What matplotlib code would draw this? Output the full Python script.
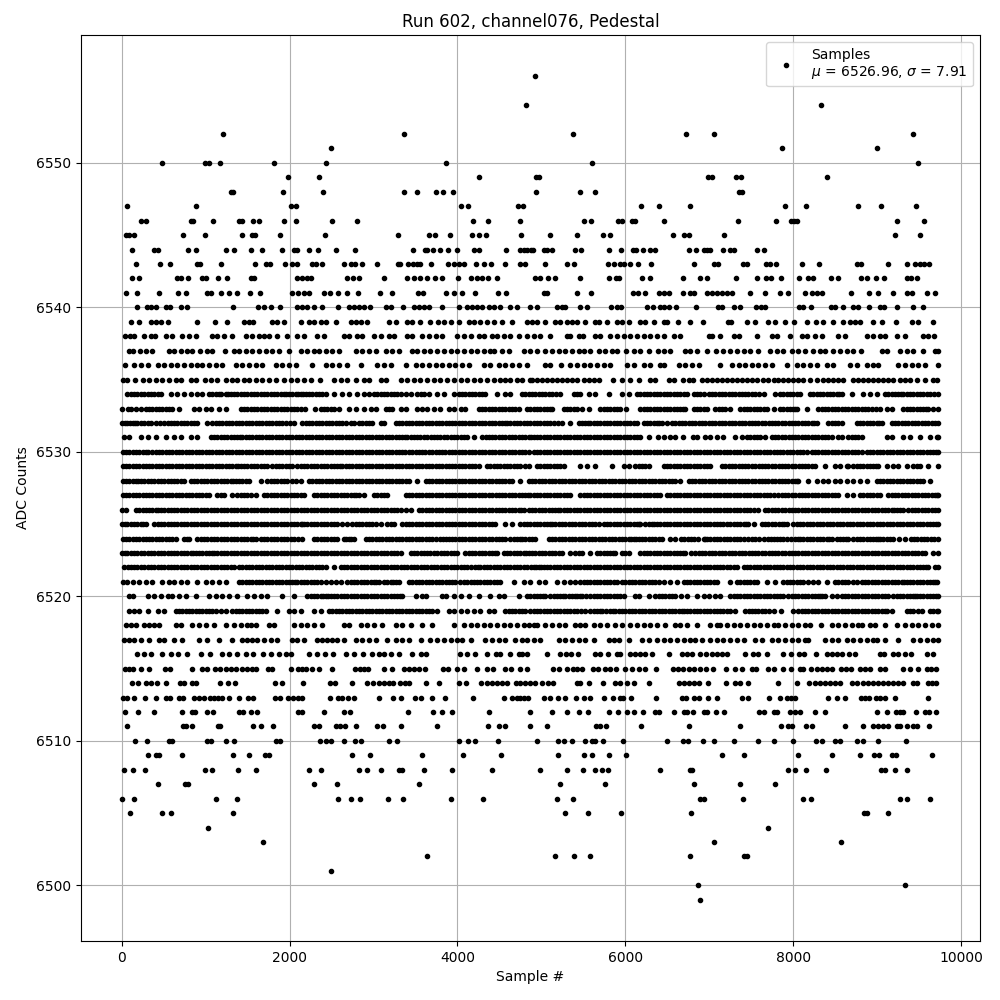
import matplotlib
matplotlib.use('Agg')
import matplotlib.pyplot as plt

# Samples, one list per ADC level
s6499 = [6885]
s6500 = [6861, 9337]
s6501 = [2492]
s6502 = [3635, 5159, 5385, 5575, 6766, 7416, 7456]
s6503 = [1682, 7051, 8575]
s6504 = [1028, 7706]
s6505 = [99, 480, 587, 1325, 5278, 5552, 5944, 6778, 8849, 8885, 9135]
s6506 = [4, 147, 1123, 1373, 2575, 2730, 2837, 3170, 3349, 3920, 4301, 5183, 5373, 6893, 6932, 7397, 8123, 8218, 9277, 9353, 9635]
s6507 = [432, 754, 790, 2290, 2563, 3539, 5218, 5754, 6813, 7361, 7778]
s6508 = [28, 127, 278, 992, 1075, 1385, 1599, 2230, 2373, 2825, 2924, 3087, 3301, 3341, 3599, 3932, 4408, 4980, 5302, 5492, 5635, 5718, 5790, 6409, 6766, 6797, 7944, 8024, 8158, 8397, 9051, 9095, 9218, 9361]
s6509 = [313, 409, 444, 718, 1325, 1516, 1706, 1754, 2742, 2956, 3575, 4063, 4516, 5194, 5504, 5599, 5801, 6004, 7147, 7409, 8063, 8468, 8801, 8968, 9027, 9182, 9230, 9658]
s6510 = [159, 302, 563, 603, 1020, 1059, 1242, 1337, 1837, 1885, 2361, 2428, 2488, 2647, 2778, 2849, 3182, 3278, 4016, 4123, 4206, 4480, 4944, 5202, 5274, 5361, 5516, 5599, 5643, 5730, 5968, 6492, 6682, 6746, 6920, 7051, 7301, 7587, 7766, 8004, 8278, 8349, 8504, 8563, 8766, 8837, 9016, 9349]
s6511 = [63, 730, 766, 837, 1147, 1171, 1563, 1659, 1801, 2290, 2349, 2551, 2599, 2659, 2789, 3040, 3111, 3325, 3754, 4361, 4496, 4563, 4861, 5063, 5647, 5694, 5774, 6182, 6754, 7361, 7861, 7944, 7984, 8158, 8230, 8623, 8837, 8956, 9016, 9075, 9135, 9234, 9274, 9361, 9432, 9472, 9623]
s6512 = [40, 194, 385, 718, 837, 873, 1016, 1087, 1397, 1444, 1540, 1611, 2099, 2147, 2409, 2647, 2718, 3408, 3706, 3813, 3932, 4373, 4861, 5123, 5302, 5444, 5552, 5801, 5909, 6016, 6099, 6206, 6349, 6397, 6575, 6694, 6734, 6801, 6932, 6972, 7075, 7182, 7599, 7647, 7766, 7813, 7964, 8024, 8083, 8266, 8385, 9004, 9123, 9226, 9274, 9313, 9468, 9575, 9623, 9706]
s6513 = [12, 63, 147, 274, 401, 528, 575, 683, 730, 861, 921, 980, 1051, 1099, 1147, 1194, 1278, 1397, 1504, 1563, 1821, 1885, 1980, 2040, 2099, 2147, 2480, 2575, 2623, 2690, 2766, 3063, 3230, 3325, 3492, 3563, 3694, 3849, 4182, 4551, 4647, 4710, 4750, 4798, 4837, 5036, 5107, 5194, 5278, 5417, 5504, 5575, 5742, 5849, 5932, 5972, 6071, 6361, 6670, 6722, 6821, 6873, 6980, 7087, 7389, 7468, 7710, 7845, 7924, 7972, 8020, 8416, 8524, 8623, 8813, 8861, 8908, 8992, 9040, 9099, 9218, 9611]
s6514 = [123, 194, 290, 345, 417, 528, 694, 742, 837, 885, 1171, 1266, 1345, 1825, 1909, 2159, 2480, 2540, 2742, 2920, 2992, 3063, 3123, 3182, 3234, 3313, 3373, 3420, 3623, 3778, 4016, 4099, 4277, 4349, 4408, 4468, 4531, 4591, 4694, 4750, 4810, 4869, 4929, 5004, 5083, 5139, 5425, 5464, 5563, 5734, 5873, 5932, 6020, 6099, 6286, 6635, 6694, 6754, 6813, 6873, 6980, 7198, 7309, 7369, 7468, 7825, 8051, 8194, 8262, 8321, 8381, 8440, 8500, 8559, 8706, 8766, 8837, 8897, 8956, 9016, 9075, 9135, 9194, 9254, 9313, 9432, 9480, 9611, 9651, 9702]
s6515 = [36, 83, 131, 226, 325, 516, 575, 841, 960, 1012, 1111, 1171, 1238, 1298, 1357, 1432, 1492, 1551, 1599, 1742, 1786, 2016, 2099, 2147, 2194, 2266, 2349, 2504, 2778, 2837, 2885, 2932, 3123, 3218, 3361, 3420, 3480, 3539, 3611, 3825, 3885, 3992, 4075, 4230, 4349, 4420, 4563, 4635, 4742, 4829, 5135, 5206, 5305, 5377, 5425, 5484, 5615, 5671, 5762, 5821, 5893, 6000, 6079, 6159, 6238, 6361, 6567, 6623, 6682, 6754, 6813, 6893, 6964, 7043, 7194, 7309, 7389, 7508, 7559, 7706, 7766, 7885, 7972, 8083, 8123, 8210, 8281, 8341, 8400, 8460, 8567, 8631, 8694, 8797, 8857, 8916, 9036, 9095, 9313, 9392, 9492, 9591, 9639, 9702]
s6516 = [179, 266, 345, 480, 583, 671, 774, 944, 1051, 1194, 1278, 1373, 1480, 1563, 1682, 1774, 1873, 1952, 2012, 2226, 2329, 2417, 2516, 2670, 2766, 2873, 2984, 3063, 3123, 3210, 3301, 3456, 3563, 3623, 4027, 4115, 4214, 4349, 4456, 4504, 4623, 4730, 4770, 4829, 5067, 5226, 5294, 5353, 5433, 5643, 5702, 5790, 5901, 5940, 6059, 6119, 6178, 6238, 6317, 6516, 6670, 6734, 6794, 6885, 6964, 7032, 7091, 7151, 7210, 7432, 7516, 7587, 7694, 7885, 7976, 8075, 8135, 8274, 8400, 8460, 8520, 8579, 8670, 8738, 9036, 9083, 9194, 9254, 9333, 9400, 9591, 9670]
s6517 = [28, 87, 147, 226, 325, 444, 504, 623, 722, 921, 1020, 1159, 1317, 1436, 1496, 1556, 1615, 1694, 1774, 1853, 2032, 2091, 2171, 2329, 2389, 2448, 2508, 2567, 2647, 2786, 2865, 2944, 3024, 3163, 3262, 3341, 3421, 3560, 3678, 3758, 3837, 3917, 3996, 4055, 4155, 4333, 4413, 4492, 4571, 4690, 4770, 4829, 4909, 4988, 5206, 5286, 5365, 5444, 5524, 5623, 5802, 5861, 5921, 6040, 6198, 6286, 6377, 6456, 6536, 6615, 6694, 6774, 6833, 6913, 7012, 7091, 7170, 7250, 7329, 7417, 7548, 7627, 7746, 7825, 7905, 7984, 8063, 8143, 8182, 8381, 8460, 8540, 8639, 8718, 8797, 8877, 8956, 8996, 9095, 9254, 9433, 9512, 9591, 9671, 9730]
s6518 = [48, 107, 167, 266, 325, 385, 444, 643, 702, 841, 920, 1000, 1099, 1238, 1337, 1417, 1496, 1536, 1595, 1754, 1813, 2051, 2131, 2210, 2290, 2389, 2647, 2706, 2845, 2924, 3004, 3103, 3262, 3341, 3441, 3579, 3698, 3956, 4075, 4155, 4234, 4313, 4393, 4472, 4551, 4631, 4710, 4790, 4849, 4909, 4948, 5048, 5127, 5206, 5286, 5405, 5464, 5524, 5623, 5702, 5782, 5881, 5960, 6059, 6139, 6218, 6298, 6377, 6476, 6595, 6655, 6734, 6853, 7012, 7091, 7131, 7210, 7290, 7369, 7448, 7528, 7607, 7686, 7766, 7825, 7905, 7984, 8063, 8143, 8202, 8329, 8460, 8540, 8619, 8698, 8778, 8817, 8916, 8976, 9095, 9234, 9333, 9413, 9492, 9571, 9651, 9730]
s6519 = [87, 147, 206, 313, 425, 504, 643, 722, 801, 881, 960, 1040, 1119, 1238, 1317, 1397, 1476, 1556, 1635, 1714, 1853, 1992, 2051, 2131, 2290, 2369, 2468, 2547, 2627, 2706, 2786, 2865, 2944, 3024, 3103, 3183, 3262, 3342, 3421, 3500, 3579, 3659, 3758, 3897, 3956, 4036, 4115, 4194, 4274, 4373, 4432, 4571, 4651, 4730, 4770, 4869, 4948, 5028, 5107, 5186, 5266, 5345, 5425, 5524, 5583, 5663, 5722, 5813, 5881, 5960, 6040, 6119, 6198, 6278, 6357, 6436, 6516, 6595, 6674, 6734, 6774, 6853, 6932, 7012, 7091, 7170, 7250, 7309, 7429, 7508, 7587, 7667, 7766, 7853, 8004, 8063, 8143, 8222, 8301, 8381, 8460, 8540, 8619, 8698, 8778, 8857, 8936, 9016, 9095, 9115, 9174, 9353, 9433, 9532, 9631, 9710, 9730]
s6520 = [87, 127, 306, 385, 464, 544, 603, 683, 762, 881, 1040, 1119, 1198, 1278, 1377, 1496, 1575, 1655, 1734, 1913, 2051, 2210, 2290, 2369, 2428, 2488, 2567, 2647, 2726, 2805, 2885, 2964, 3044, 3123, 3202, 3282, 3341, 3500, 3579, 3619, 3817, 3857, 3956, 4036, 4135, 4254, 4393, 4492, 4551, 4730, 4829, 4909, 4988, 5048, 5147, 5226, 5286, 5365, 5425, 5484, 5583, 5663, 5742, 5821, 5901, 5980, 6119, 6159, 6278, 6357, 6436, 6516, 6595, 6734, 6853, 6932, 6992, 7071, 7131, 7250, 7329, 7409, 7488, 7567, 7647, 7726, 7805, 7885, 7984, 8063, 8143, 8222, 8301, 8341, 8381, 8460, 8520, 8579, 8658, 8738, 8817, 8897, 8976, 9056, 9135, 9234, 9313, 9393, 9452, 9512, 9591, 9671, 9730]
s6521 = [8, 67, 127, 206, 286, 365, 484, 563, 623, 702, 782, 893, 1000, 1079, 1159, 1238, 1397, 1476, 1556, 1635, 1714, 1794, 1873, 1952, 2032, 2091, 2131, 2210, 2290, 2369, 2428, 2488, 2547, 2607, 2686, 2766, 2845, 2924, 3004, 3063, 3123, 3202, 3262, 3302, 3420, 3500, 3579, 3659, 3738, 3817, 3897, 3976, 4075, 4115, 4194, 4274, 4353, 4433, 4512, 4670, 4790, 4869, 4968, 5048, 5186, 5266, 5345, 5405, 5504, 5583, 5663, 5742, 5821, 5901, 5960, 6040, 6119, 6198, 6278, 6357, 6456, 6536, 6615, 6694, 6774, 6853, 6932, 7012, 7091, 7250, 7329, 7409, 7488, 7567, 7686, 7786, 7885, 7964, 8044, 8123, 8242, 8301, 8400, 8500, 8579, 8658, 8758, 8817, 8897, 8976, 9056, 9135, 9214, 9294, 9353, 9432, 9512, 9591, 9671, 9710]
s6522 = [28, 107, 186, 266, 345, 425, 504, 583, 663, 742, 821, 901, 980, 1059, 1139, 1218, 1298, 1337, 1397, 1476, 1556, 1635, 1714, 1794, 1873, 1952, 2032, 2111, 2190, 2270, 2349, 2429, 2528, 2607, 2686, 2766, 2845, 2924, 3004, 3083, 3163, 3242, 3322, 3401, 3480, 3560, 3639, 3718, 3798, 3877, 3956, 4036, 4115, 4214, 4274, 4353, 4433, 4512, 4591, 4671, 4750, 4830, 4909, 4968, 5028, 5107, 5186, 5266, 5345, 5425, 5504, 5583, 5663, 5742, 5821, 5901, 5980, 6059, 6139, 6218, 6298, 6377, 6456, 6536, 6615, 6694, 6774, 6853, 6932, 7012, 7091, 7170, 7250, 7329, 7409, 7488, 7567, 7647, 7726, 7805, 7885, 7964, 8044, 8123, 8202, 8282, 8361, 8440, 8520, 8599, 8678, 8758, 8837, 8916, 8996, 9075, 9155, 9234, 9313, 9393, 9472, 9551, 9611, 9690, 9730]
s6523 = [0, 67, 147, 226, 266, 345, 425, 504, 583, 663, 742, 821, 881, 960, 1040, 1099, 1178, 1258, 1337, 1417, 1496, 1575, 1655, 1734, 1813, 1893, 1972, 2051, 2131, 2210, 2290, 2369, 2448, 2528, 2607, 2686, 2766, 2845, 2924, 3004, 3083, 3163, 3242, 3321, 3440, 3520, 3599, 3678, 3758, 3837, 3917, 3996, 4095, 4175, 4254, 4333, 4413, 4472, 4551, 4631, 4710, 4790, 4849, 4929, 5008, 5087, 5167, 5246, 5345, 5405, 5484, 5583, 5663, 5742, 5821, 5881, 5960, 6040, 6178, 6258, 6337, 6417, 6496, 6575, 6655, 6714, 6786, 6873, 6952, 7032, 7111, 7191, 7270, 7349, 7429, 7508, 7587, 7667, 7746, 7825, 7905, 7984, 8063, 8143, 8222, 8301, 8381, 8460, 8540, 8619, 8698, 8778, 8857, 8936, 9016, 9095, 9174, 9254, 9333, 9413, 9492, 9571, 9671, 9730]
s6524 = [8, 87, 167, 246, 325, 405, 484, 563, 643, 742, 802, 901, 980, 1059, 1139, 1218, 1298, 1377, 1456, 1536, 1595, 1655, 1734, 1813, 1893, 1972, 2051, 2151, 2290, 2369, 2448, 2528, 2567, 2647, 2706, 2766, 2905, 2984, 3063, 3143, 3222, 3301, 3381, 3460, 3540, 3619, 3698, 3797, 3857, 3936, 4016, 4095, 4175, 4254, 4333, 4413, 4492, 4571, 4631, 4710, 4770, 4849, 4929, 5087, 5167, 5246, 5325, 5405, 5444, 5484, 5563, 5643, 5722, 5802, 5881, 5960, 6040, 6099, 6159, 6238, 6317, 6397, 6436, 6536, 6595, 6663, 6742, 6821, 6932, 6972, 7051, 7131, 7210, 7290, 7369, 7409, 7468, 7548, 7647, 7706, 7766, 7845, 7925, 8024, 8083, 8162, 8242, 8321, 8400, 8460, 8520, 8599, 8658, 8718, 8797, 8877, 8956, 9016, 9036, 9115, 9194, 9266, 9333, 9400, 9480, 9559, 9639, 9730]
s6525 = [0, 67, 147, 226, 286, 385, 464, 544, 623, 702, 782, 861, 940, 1020, 1099, 1178, 1258, 1337, 1417, 1496, 1575, 1655, 1734, 1813, 1893, 1972, 2051, 2131, 2171, 2250, 2329, 2409, 2488, 2567, 2686, 2746, 2825, 2905, 2984, 3083, 3163, 3242, 3341, 3421, 3500, 3579, 3659, 3738, 3817, 3897, 3976, 4055, 4135, 4214, 4294, 4373, 4452, 4571, 4651, 4750, 4829, 4909, 4988, 5067, 5127, 5206, 5286, 5365, 5444, 5524, 5603, 5682, 5742, 5821, 5901, 5980, 6059, 6139, 6178, 6238, 6317, 6377, 6456, 6536, 6615, 6694, 6774, 6853, 6932, 7012, 7091, 7170, 7250, 7329, 7409, 7468, 7528, 7627, 7706, 7786, 7865, 7924, 8004, 8083, 8162, 8242, 8321, 8401, 8480, 8559, 8639, 8718, 8797, 8877, 8956, 9036, 9115, 9194, 9274, 9353, 9433, 9512, 9591, 9671, 9730]
s6526 = [0, 48, 167, 246, 325, 405, 464, 544, 623, 702, 782, 861, 940, 1020, 1099, 1178, 1258, 1337, 1417, 1496, 1575, 1655, 1734, 1813, 1893, 1972, 2051, 2131, 2210, 2290, 2369, 2448, 2528, 2607, 2686, 2766, 2845, 2924, 3004, 3083, 3163, 3242, 3321, 3440, 3539, 3619, 3698, 3778, 3857, 3936, 4016, 4095, 4175, 4254, 4333, 4413, 4492, 4571, 4651, 4730, 4789, 4849, 4929, 5008, 5087, 5167, 5226, 5306, 5385, 5464, 5544, 5623, 5702, 5782, 5861, 5940, 6020, 6099, 6178, 6258, 6337, 6417, 6496, 6575, 6655, 6734, 6813, 6893, 6972, 7051, 7131, 7210, 7290, 7369, 7448, 7528, 7579, 7666, 7746, 7825, 7905, 7984, 8063, 8143, 8222, 8301, 8381, 8460, 8540, 8619, 8698, 8778, 8857, 8936, 9016, 9095, 9174, 9234, 9313, 9373, 9452, 9532, 9611, 9690, 9730]
s6527 = [8, 87, 167, 246, 325, 405, 484, 563, 643, 722, 801, 881, 960, 1040, 1139, 1218, 1317, 1377, 1456, 1536, 1595, 1694, 1774, 1853, 1933, 2012, 2091, 2171, 2290, 2369, 2448, 2528, 2607, 2686, 2766, 2825, 2885, 3004, 3083, 3163, 3381, 3460, 3540, 3619, 3698, 3778, 3857, 3936, 4016, 4095, 4175, 4254, 4333, 4413, 4492, 4571, 4651, 4730, 4810, 4869, 4909, 4988, 5067, 5147, 5226, 5266, 5345, 5464, 5544, 5623, 5702, 5782, 5861, 5940, 6020, 6099, 6178, 6258, 6337, 6417, 6496, 6575, 6655, 6734, 6813, 6893, 6972, 7051, 7131, 7210, 7290, 7369, 7448, 7528, 7607, 7686, 7766, 7865, 7944, 8024, 8103, 8182, 8262, 8341, 8381, 8460, 8540, 8639, 8718, 8797, 8877, 8956, 9036, 9135, 9214, 9294, 9373, 9452, 9532, 9611, 9690, 9730]
s6528 = [8, 87, 167, 226, 306, 385, 464, 544, 623, 702, 742, 821, 901, 980, 1059, 1139, 1218, 1298, 1357, 1436, 1516, 1655, 1734, 1813, 1893, 1972, 2071, 2131, 2230, 2309, 2389, 2468, 2548, 2627, 2706, 2785, 2865, 2944, 3024, 3103, 3182, 3262, 3341, 3421, 3520, 3619, 3698, 3778, 3857, 3936, 4016, 4095, 4175, 4254, 4333, 4413, 4492, 4571, 4651, 4750, 4849, 4929, 5008, 5087, 5167, 5246, 5325, 5405, 5484, 5563, 5643, 5722, 5802, 5881, 5960, 6040, 6119, 6198, 6278, 6357, 6436, 6516, 6595, 6655, 6754, 6833, 6913, 6992, 7071, 7151, 7230, 7309, 7389, 7468, 7548, 7627, 7706, 7786, 7865, 7944, 8024, 8063, 8174, 8282, 8361, 8421, 8500, 8559, 8639, 8718, 8797, 8877, 8996, 9075, 9155, 9234, 9313, 9393, 9472, 9552, 9631]
s6529 = [8, 87, 167, 246, 325, 405, 484, 563, 643, 722, 801, 881, 960, 1040, 1119, 1198, 1278, 1357, 1417, 1496, 1575, 1655, 1734, 1794, 1833, 1913, 1992, 2032, 2091, 2171, 2250, 2329, 2409, 2488, 2567, 2627, 2706, 2786, 2865, 2944, 3024, 3103, 3182, 3262, 3341, 3421, 3500, 3579, 3659, 3738, 3817, 3897, 3976, 4055, 4135, 4214, 4254, 4353, 4433, 4512, 4591, 4670, 4750, 4810, 4849, 4948, 5028, 5107, 5186, 5266, 5464, 5544, 5643, 5841, 5980, 6040, 6119, 6198, 6278, 6456, 6536, 6615, 6694, 6774, 6853, 6932, 7012, 7151, 7230, 7309, 7389, 7468, 7548, 7627, 7706, 7786, 7865, 7944, 8024, 8103, 8182, 8262, 8381, 8500, 8559, 8639, 8718, 8797, 8877, 8956, 9016, 9115, 9194, 9254, 9353, 9433, 9512, 9611, 9730]
s6530 = [8, 87, 167, 246, 306, 365, 405, 484, 563, 642, 722, 801, 881, 960, 1040, 1119, 1198, 1278, 1357, 1436, 1516, 1595, 1675, 1754, 1833, 1913, 1992, 2071, 2151, 2230, 2309, 2389, 2468, 2547, 2627, 2706, 2785, 2865, 2944, 3024, 3103, 3182, 3262, 3301, 3380, 3460, 3539, 3618, 3698, 3777, 3856, 3936, 4015, 4094, 4174, 4253, 4333, 4373, 4452, 4531, 4611, 4690, 4770, 4849, 4909, 4988, 5067, 5147, 5226, 5306, 5385, 5464, 5544, 5623, 5702, 5782, 5861, 5940, 6020, 6099, 6178, 6258, 6337, 6416, 6496, 6575, 6655, 6734, 6813, 6893, 6972, 7051, 7131, 7210, 7290, 7369, 7448, 7528, 7607, 7686, 7766, 7845, 7925, 8004, 8083, 8162, 8222, 8301, 8381, 8460, 8540, 8619, 8698, 8778, 8817, 8877, 8956, 9036, 9115, 9194, 9274, 9353, 9432, 9512, 9591, 9671, 9730]
s6531 = [20, 87, 226, 306, 405, 524, 623, 702, 821, 901, 1059, 1139, 1218, 1298, 1377, 1436, 1516, 1595, 1674, 1754, 1833, 1913, 1992, 2071, 2151, 2230, 2309, 2389, 2468, 2547, 2627, 2706, 2785, 2865, 2944, 3024, 3103, 3182, 3262, 3341, 3401, 3480, 3559, 3639, 3718, 3797, 3877, 3956, 4036, 4115, 4194, 4294, 4373, 4452, 4532, 4611, 4690, 4770, 4849, 4909, 4988, 5067, 5147, 5226, 5306, 5385, 5464, 5544, 5623, 5702, 5782, 5861, 5940, 6020, 6099, 6178, 6278, 6385, 6464, 6536, 6595, 6686, 6805, 6853, 6952, 7012, 7091, 7170, 7309, 7389, 7448, 7528, 7607, 7666, 7746, 7825, 7905, 7984, 8063, 8143, 8222, 8301, 8381, 8460, 8539, 8579, 8658, 8738, 8817, 9115, 9174, 9313, 9393, 9512, 9631, 9710, 9727]
s6532 = [0, 67, 127, 186, 266, 345, 405, 504, 583, 663, 742, 821, 901, 1020, 1079, 1159, 1238, 1317, 1397, 1476, 1555, 1635, 1714, 1793, 1873, 1952, 2051, 2151, 2230, 2309, 2389, 2468, 2547, 2627, 2726, 2766, 2825, 2905, 2984, 3083, 3123, 3262, 3341, 3421, 3500, 3579, 3659, 3738, 3817, 3897, 3976, 4055, 4135, 4214, 4294, 4373, 4452, 4532, 4591, 4631, 4710, 4789, 4869, 4909, 4988, 5067, 5147, 5246, 5345, 5444, 5524, 5583, 5663, 5742, 5821, 5901, 5980, 6059, 6139, 6218, 6298, 6377, 6436, 6496, 6555, 6635, 6714, 6794, 6873, 6952, 7032, 7111, 7191, 7270, 7349, 7429, 7508, 7587, 7667, 7746, 7825, 7905, 7984, 8063, 8143, 8222, 8282, 8421, 8500, 8579, 8758, 8837, 8917, 8996, 9055, 9175, 9254, 9333, 9413, 9492, 9571, 9651, 9730]
s6533 = [0, 68, 167, 286, 365, 444, 524, 603, 683, 861, 921, 1000, 1059, 1159, 1238, 1417, 1496, 1575, 1655, 1734, 1813, 1893, 1972, 2051, 2131, 2178, 2301, 2369, 2448, 2528, 2587, 2706, 2785, 2885, 2964, 3024, 3143, 3222, 3321, 3381, 3520, 3579, 3639, 3718, 3797, 3897, 3956, 4036, 4095, 4254, 4333, 4412, 4492, 4571, 4651, 4730, 4829, 4909, 4988, 5067, 5127, 5266, 5345, 5425, 5484, 5563, 5702, 5782, 5861, 5940, 6012, 6178, 6258, 6337, 6417, 6496, 6575, 6655, 6714, 6813, 6893, 6972, 7071, 7151, 7250, 7369, 7448, 7528, 7607, 7686, 7766, 7845, 7924, 8004, 8043, 8162, 8301, 8381, 8460, 8540, 8619, 8698, 8778, 8857, 8936, 9036, 9115, 9175, 9313, 9393, 9472, 9552, 9611, 9671, 9730]
s6534 = [67, 147, 226, 306, 385, 464, 583, 663, 742, 821, 901, 960, 1040, 1119, 1178, 1238, 1298, 1377, 1456, 1536, 1615, 1694, 1774, 1853, 1932, 1992, 2071, 2131, 2190, 2270, 2349, 2428, 2528, 2627, 2706, 2805, 2885, 2944, 3004, 3083, 3163, 3242, 3321, 3381, 3440, 3520, 3599, 3659, 3758, 3837, 3956, 4016, 4095, 4175, 4254, 4333, 4472, 4571, 4631, 4770, 4849, 4889, 4968, 5048, 5127, 5226, 5385, 5464, 5563, 5643, 5802, 5960, 6040, 6139, 6218, 6298, 6377, 6456, 6536, 6615, 6694, 6734, 6813, 6893, 6992, 7071, 7151, 7230, 7309, 7389, 7468, 7548, 7647, 7785, 7845, 7924, 8004, 8083, 8202, 8282, 8361, 8440, 8520, 8579, 8698, 8837, 8917, 8996, 9095, 9175, 9254, 9313, 9393, 9472, 9552, 9631, 9730]
s6535 = [8, 67, 155, 246, 325, 405, 484, 563, 642, 702, 821, 881, 988, 1059, 1139, 1238, 1317, 1377, 1456, 1516, 1595, 1675, 1754, 1833, 1932, 2012, 2091, 2171, 2250, 2361, 2528, 2607, 2686, 2785, 2885, 2944, 3083, 3143, 3321, 3400, 3480, 3559, 3639, 3718, 3797, 3877, 3956, 4036, 4115, 4194, 4274, 4353, 4433, 4512, 4571, 4631, 4710, 4770, 4869, 4889, 4948, 5008, 5067, 5127, 5186, 5246, 5306, 5365, 5425, 5504, 5563, 5623, 5682, 5849, 5960, 6059, 6159, 6298, 6357, 6516, 6575, 6686, 6754, 6805, 6913, 6972, 7032, 7091, 7151, 7210, 7270, 7329, 7389, 7448, 7508, 7575, 7639, 7706, 7766, 7825, 7885, 7944, 8004, 8063, 8123, 8202, 8282, 8361, 8421, 8480, 8540, 8599, 8718, 8778, 8837, 8897, 8956, 9016, 9075, 9135, 9194, 9274, 9333, 9393, 9472, 9571, 9662, 9710]
s6536 = [36, 147, 226, 306, 425, 504, 583, 663, 742, 821, 901, 960, 1040, 1119, 1198, 1357, 1436, 1516, 1595, 1675, 1833, 1913, 1992, 2071, 2270, 2428, 2508, 2587, 2686, 2845, 3043, 3123, 3202, 3381, 3500, 3579, 3659, 3738, 3817, 3897, 3976, 4055, 4135, 4313, 4393, 4492, 4571, 4651, 4730, 4829, 5048, 5107, 5234, 5345, 5425, 5504, 5583, 5663, 5742, 5821, 6020, 6099, 6218, 6298, 6417, 6456, 6635, 6714, 6794, 6873, 7131, 7270, 7349, 7428, 7508, 7587, 7666, 7746, 7932, 8043, 8123, 8202, 8282, 8400, 8480, 8678, 8758, 8877, 8956, 9016, 9254, 9333, 9412, 9492, 9571, 9730]
s6537 = [87, 135, 218, 286, 365, 563, 623, 702, 774, 841, 929, 1020, 1079, 1230, 1337, 1397, 1476, 1555, 1635, 1714, 1793, 1873, 1992, 2131, 2210, 2290, 2349, 2428, 2508, 2587, 2786, 2865, 2944, 3024, 3143, 3222, 3301, 3460, 3520, 3599, 3678, 3758, 3837, 3917, 3996, 4075, 4155, 4234, 4313, 4385, 4432, 4531, 4611, 4789, 4869, 4948, 5048, 5127, 5206, 5286, 5365, 5444, 5504, 5583, 5682, 5762, 5841, 5901, 6012, 6099, 6178, 6278, 6385, 6456, 6536, 6714, 6774, 6853, 6972, 7083, 7170, 7250, 7329, 7409, 7488, 7587, 7726, 7805, 7885, 7984, 8063, 8143, 8242, 8321, 8381, 8480, 8559, 8639, 8718, 8809, 9055, 9115, 9274, 9353, 9432, 9551, 9690, 9730]
s6538 = [36, 99, 147, 266, 345, 393, 524, 603, 722, 801, 881, 1079, 1139, 1218, 1317, 1476, 1555, 1635, 1694, 1754, 1853, 1972, 2091, 2171, 2329, 2409, 2647, 2706, 2805, 2865, 3004, 3083, 3182, 3242, 3401, 3460, 3579, 3659, 3738, 3817, 3996, 4075, 4155, 4254, 4313, 4412, 4472, 4551, 4631, 4730, 4829, 4909, 4988, 5107, 5306, 5345, 5444, 5496, 5643, 5702, 5821, 5901, 5980, 6059, 6139, 6218, 6298, 6377, 6456, 6575, 6655, 6992, 7032, 7131, 7290, 7349, 7567, 7746, 7805, 7964, 8103, 8162, 8262, 8341, 8539, 8619, 8877, 8956, 9036, 9095, 9234, 9333, 9551, 9611, 9682]
s6539 = [107, 206, 345, 405, 464, 544, 901, 1107, 1254, 1456, 1516, 1567, 1786, 1853, 1932, 2131, 2230, 2290, 2369, 2428, 2547, 2726, 2786, 2845, 2924, 3182, 3262, 3400, 3460, 3559, 3670, 3766, 3837, 3917, 4016, 4135, 4195, 4274, 4353, 4433, 4531, 4649, 4829, 4889, 4948, 5048, 5167, 5226, 5306, 5365, 5425, 5524, 5643, 5682, 5782, 5901, 5960, 6040, 6178, 6238, 6337, 6456, 6496, 6623, 6766, 6924, 7218, 7258, 7456, 7548, 7706, 7786, 7909, 8016, 8170, 8274, 8361, 8480, 8599, 8678, 8738, 8797, 8956, 9056, 9226, 9412, 9488, 9670]
s6540 = [183, 298, 345, 405, 524, 575, 702, 774, 1325, 1623, 1694, 1778, 1885, 2091, 2151, 2210, 2290, 2385, 2571, 2706, 2766, 2825, 2885, 2956, 3143, 3202, 3349, 3480, 3539, 3599, 3658, 3813, 4016, 4115, 4175, 4235, 4290, 4373, 4440, 4512, 4630, 4710, 4869, 4948, 5186, 5246, 5286, 5456, 5544, 5829, 5901, 5952, 6258, 6325, 6409, 6464, 6516, 6607, 6845, 7099, 7151, 7290, 7369, 7559, 7615, 7666, 8075, 8123, 8218, 8456, 8504, 8599, 8718, 8778, 8908, 9036, 9083, 9234, 9432, 9552]
s6541 = [48, 183, 444, 671, 766, 1020, 1059, 1182, 1278, 1373, 1528, 1647, 2028, 2099, 2171, 2230, 2409, 2480, 2575, 2682, 2813, 3075, 3218, 3528, 3587, 3861, 3956, 4051, 4206, 4480, 4583, 5036, 5067, 5421, 5587, 6087, 6147, 6230, 6397, 6456, 6516, 6682, 6766, 6821, 6972, 7032, 7091, 7151, 7210, 7270, 7480, 7659, 7849, 7944, 8147, 8222, 8281, 8349, 8694, 8908, 9016, 9186, 9353, 9412, 9599, 9694]
s6542 = [123, 206, 663, 702, 790, 952, 1000, 1147, 1254, 1540, 1575, 2087, 2147, 2210, 2258, 2682, 2754, 2825, 3123, 3397, 3480, 3551, 3639, 3730, 3813, 4003, 4158, 4234, 4289, 4361, 4468, 4928, 4988, 5075, 5167, 5456, 5801, 5893, 5928, 6194, 6290, 6682, 6893, 6972, 7325, 7575, 7678, 7734, 7861, 8075, 8182, 8242, 8456, 8539, 8813, 8885, 8992, 9087, 9353, 9400, 9480]
s6543 = [171, 456, 575, 900, 932, 1182, 1587, 1718, 1766, 1944, 2024, 2091, 2262, 2309, 2385, 2647, 2734, 2778, 2861, 3040, 3290, 3313, 3408, 3468, 3520, 3551, 3686, 3885, 3964, 4016, 4083, 4226, 4313, 4397, 4563, 4750, 4809, 5040, 5305, 5385, 5790, 5861, 5932, 5988, 6059, 6147, 6301, 6813, 7051, 7099, 7401, 7448, 7674, 7726, 7790, 8103, 8313, 8766, 8813, 9131, 9361, 9456, 9512, 9563, 9623]
s6544 = [123, 385, 425, 790, 889, 1242, 1337, 1540, 1670, 1909, 2051, 2091, 2226, 2337, 2551, 2778, 3468, 3611, 3631, 3706, 3789, 3885, 3992, 4202, 4254, 4575, 4750, 4790, 4830, 4870, 4900, 5028, 5067, 5127, 5405, 5476, 5801, 5944, 6087, 6131, 6206, 6290, 6349, 6754, 6837, 6932, 6972, 7012, 7159, 7250, 7290, 7575, 7647]
s6545 = [48, 83, 147, 730, 992, 1432, 1555, 1583, 1885, 2420, 3290, 3658, 3730, 3908, 4170, 4254, 4337, 4754, 5099, 5421, 5730, 5813, 6563, 6694, 6754, 7182, 9218, 9516]
s6546 = [230, 282, 821, 853, 1087, 1401, 1432, 1563, 1635, 1932, 2075, 2504, 2801, 4182, 4361, 4742, 5504, 5587, 5909, 5956, 6079, 6119, 6456, 7337, 7790, 7980, 8016, 8051, 9242, 9563]
s6547 = [63, 889, 2016, 2075, 4039, 4130, 4718, 4781, 6182, 6397, 6766, 7908, 8158, 8778, 9051, 9468]
s6548 = [1298, 1325, 1920, 2397, 3361, 3516, 3742, 3825, 3944, 4933, 5456, 5635, 7349, 7389]
s6549 = [1980, 2349, 4254, 4933, 4968, 6980, 7028, 7321, 7373, 8408]
s6550 = [480, 992, 1040, 1170, 1813, 2432, 3861, 5599, 9492]
s6551 = [2492, 7873, 9004]
s6552 = [1206, 3361, 5373, 6718, 7051, 9432]
s6554 = [4813, 8337]
s6556 = [4920]

# More samples read inside the solid runs of the crowded levels
x6519 = [683, 762, 841, 921, 1000, 1080, 1180, 1357, 1437, 1516, 1596, 1675, 2508, 2587, 2667, 2746, 2826, 2905, 2984, 3064, 3143, 3223, 3302, 3381, 3461, 3540, 3619, 3699, 4611, 4691, 4800, 4909, 4988, 5067, 5147, 5226, 5306, 5385, 5475, 5622, 5693, 5770, 5850, 5921, 6000, 6080, 6159, 6238, 6318, 6397, 6476, 6556, 6635, 6704, 6814, 6893, 6972, 7052, 7131, 7210, 7469, 7548, 7627, 7717, 8103, 8183, 8262, 8341, 8421, 8500, 8580, 8659, 8738, 8818, 8897, 8976, 9056, 9393, 9483, 9671]
x6520 = [2250, 2330, 2398, 2458, 2528, 2607, 2687, 2766, 2845, 2925, 3004, 3084, 3163, 3242, 3312, 4869, 4948, 5018, 5097, 5186, 5256, 5325, 5395, 5455, 5533, 5623, 5702, 5782, 5861, 5940, 6397, 6476, 6556, 6665, 7290, 7369, 7448, 7528, 7607, 7686, 7766, 7845, 7935, 8024, 8103, 8182, 8262, 8321, 8619, 8698, 8778, 8857, 8937, 9016, 9095, 9185, 9273, 9353, 9423, 9482, 9552, 9631, 9700]
x6521 = [1437, 1516, 1596, 1675, 1754, 1833, 1913, 1992, 2062, 2170, 2250, 2330, 2726, 2805, 2885, 2964, 3034, 3162, 3232, 3460, 3540, 3619, 3699, 3778, 3857, 3937, 4025, 4155, 4234, 4314, 4393, 4473, 5464, 5544, 5623, 5703, 5782, 5861, 6000, 6080, 6159, 6238, 6318, 6407, 6734, 6813, 6893, 6972, 7052, 7369, 7449, 7528, 7925, 8004, 8084, 8182, 8540, 8619, 8708, 8857, 8937, 9016, 9096, 9175, 9254, 9324, 9393, 9472, 9552, 9631, 9690]
x6522 = [68, 147, 226, 306, 385, 465, 544, 623, 703, 782, 861, 941, 1020, 1099, 1179, 1258, 1437, 1516, 1596, 1675, 1754, 1834, 1913, 1992, 2072, 2151, 2230, 2310, 2389, 2647, 2726, 2806, 2885, 2964, 3044, 3123, 3203, 3282, 3362, 3441, 3520, 3600, 3679, 3758, 3838, 3917, 3996, 4076, 4165, 4244, 4314, 4393, 4473, 4552, 4631, 4711, 4790, 4880, 4939, 4998, 5068, 5147, 5226, 5306, 5385, 5465, 5544, 5623, 5703, 5782, 5861, 5941, 6020, 6099, 6179, 6258, 6338, 6417, 6496, 6576, 6655, 6734, 6814, 6893, 6972, 7052, 7131, 7210, 7290, 7449, 7528, 7607, 7687, 7766, 7845, 7925, 8004, 8084, 8163, 8242, 8322, 8401, 8480, 8560, 8639, 8718, 8798, 8877, 8956, 9036, 9115, 9195, 9274, 9353, 9433, 9512, 9581]
x6523 = [34, 107, 186, 306, 385, 465, 544, 623, 703, 782, 851, 921, 1000, 1070, 1139, 1218, 1298, 1377, 1457, 1536, 1615, 1695, 1774, 1853, 1933, 2012, 2091, 2171, 2250, 2330, 2409, 2488, 2568, 2647, 2726, 2806, 2885, 2964, 3044, 3123, 3203, 3282, 3480, 3560, 3639, 3718, 3798, 3877, 3957, 4135, 4214, 4294, 4373, 4443, 4591, 4671, 4750, 4820, 4889, 4969, 5048, 5127, 5207, 5445, 5702, 5782, 5851, 6000, 6218, 6298, 6377, 6457, 6536, 6615, 6685, 6830, 6912, 6992, 7072, 7151, 7231, 7310, 7389, 7469, 7548, 7627, 7707, 7786, 7865, 7945, 8024, 8103, 8183, 8262, 8341, 8421, 8500, 8580, 8659, 8738, 8818, 8897, 8976, 9056, 9135, 9214, 9294, 9373, 9452, 9532]
x6524 = [48, 127, 207, 286, 365, 445, 524, 603, 772, 941, 1020, 1099, 1179, 1258, 1338, 1417, 1496, 1566, 1695, 1774, 1853, 1933, 2012, 2101, 2330, 2409, 2488, 2676, 2736, 2945, 3024, 3103, 3183, 3262, 3341, 3421, 3500, 3580, 3659, 3738, 3827, 3897, 3976, 4056, 4135, 4214, 4294, 4373, 4453, 4532, 4671, 4740, 4810, 4889, 5127, 5206, 5286, 5365, 5524, 5603, 5683, 5762, 5842, 5921, 6000, 6070, 6129, 6199, 6278, 6357, 6703, 6782, 6862, 6952, 7012, 7091, 7171, 7250, 7330, 7508, 7597, 7736, 7806, 7885, 7975, 8054, 8123, 8202, 8282, 8361, 8430, 8560, 8629, 8758, 8837, 8917, 8986, 9076, 9155, 9440, 9520, 9599, 9680]
x6525 = [34, 107, 186, 256, 425, 504, 584, 663, 742, 822, 901, 980, 1060, 1139, 1218, 1298, 1377, 1457, 1536, 1615, 1695, 1774, 1853, 1933, 2012, 2091, 2151, 2211, 2290, 2369, 2449, 2528, 2627, 2786, 2865, 2945, 3034, 3203, 3381, 3460, 3540, 3619, 3698, 3778, 3857, 3937, 4016, 4095, 4175, 4254, 4333, 4413, 4790, 4869, 4949, 5028, 5097, 5167, 5246, 5326, 5405, 5484, 5564, 5643, 5782, 5861, 5941, 6020, 6099, 6159, 6278, 6347, 6417, 6496, 6576, 6655, 6734, 6814, 6893, 6972, 7052, 7131, 7210, 7290, 7369, 7439, 7667, 7746, 7826, 7895, 8044, 8123, 8202, 8282, 8361, 8440, 8520, 8599, 8679, 8758, 8837, 8917, 8996, 9075, 9155, 9234, 9314, 9393, 9473, 9552, 9631, 9700]
x6526 = [207, 286, 365, 435, 504, 584, 663, 742, 822, 901, 980, 1060, 1139, 1218, 1298, 1377, 1457, 1536, 1615, 1695, 1774, 1853, 1933, 2012, 2091, 2171, 2250, 2330, 2409, 2488, 2568, 2647, 2726, 2806, 2885, 2964, 3044, 3123, 3203, 3282, 3381, 3579, 3659, 3738, 3818, 3897, 3976, 4056, 4135, 4214, 4294, 4373, 4453, 4532, 4611, 4691, 4760, 4889, 4969, 5048, 5127, 5197, 5266, 5346, 5425, 5504, 5584, 5663, 5742, 5822, 5901, 5980, 6060, 6139, 6218, 6298, 6377, 6457, 6536, 6615, 6695, 6774, 6853, 6933, 7012, 7091, 7171, 7250, 7330, 7409, 7488, 7706, 7786, 7865, 7945, 8024, 8103, 8183, 8262, 8341, 8421, 8500, 8580, 8659, 8738, 8818, 8897, 8976, 9056, 9135, 9204, 9274, 9413, 9492, 9572, 9651]
x6527 = [48, 127, 207, 286, 365, 445, 524, 603, 683, 762, 841, 921, 1000, 1179, 1417, 1496, 1734, 1814, 1893, 1973, 2052, 2131, 2330, 2409, 2488, 2568, 2647, 2726, 2796, 3044, 3123, 3421, 3500, 3580, 3659, 3738, 3818, 3897, 3976, 4056, 4135, 4214, 4294, 4373, 4453, 4532, 4611, 4691, 4770, 4840, 4949, 5028, 5107, 5187, 5306, 5504, 5584, 5663, 5742, 5822, 5901, 5980, 6060, 6139, 6218, 6298, 6377, 6536, 6615, 6695, 6774, 6853, 6933, 7012, 7091, 7171, 7250, 7330, 7409, 7488, 7568, 7647, 7726, 7816, 7905, 7984, 8064, 8143, 8222, 8302, 8421, 8500, 8837, 8917, 8996, 9175, 9254, 9334, 9413, 9492, 9572, 9651, 9710]
x6528 = [48, 127, 197, 266, 346, 425, 504, 584, 663, 861, 941, 1020, 1099, 1179, 1258, 1328, 1397, 1476, 1774, 1853, 1933, 2022, 2270, 2349, 2429, 2508, 2588, 2667, 2746, 2825, 2905, 2984, 3064, 3143, 3222, 3302, 3381, 3658, 3738, 3818, 3897, 3976, 4056, 4135, 4214, 4294, 4373, 4453, 4532, 4611, 4889, 4969, 5048, 5127, 5207, 5286, 5365, 5445, 5524, 5603, 5683, 5762, 5841, 5921, 6000, 6080, 6159, 6238, 6318, 6397, 6476, 6556, 6794, 6873, 6952, 7032, 7111, 7191, 7270, 7349, 7429, 7508, 7588, 7667, 7746, 7826, 7905, 7984, 8044, 9036, 9115, 9194, 9274, 9353, 9433, 9512]
x6529 = [48, 127, 207, 286, 365, 445, 524, 603, 683, 762, 841, 921, 1000, 1080, 1159, 1238, 1318, 1387, 1457, 1536, 1615, 1695, 1873, 1953, 2131, 2211, 2290, 2369, 2449, 2528, 2597, 2667, 2746, 2826, 2905, 2984, 3064, 3143, 3222, 3302, 3381, 3461, 3540, 3619, 3699, 3778, 3858, 3937, 4016, 4095, 4175, 4393, 4473, 4552, 4631, 4710, 4988, 5068, 5147, 5226, 6159, 6238, 6496, 6576, 6655, 6734, 6814, 6893, 6972, 7191, 7270, 7349, 7429, 7508, 7588, 7667, 7746, 7826, 7905, 7984, 8064, 8143, 8222, 8659, 8758, 8837, 8917, 8986, 9473]
x6530 = [48, 127, 207, 286, 445, 524, 603, 682, 762, 841, 921, 1000, 1080, 1159, 1238, 1318, 1397, 1476, 1556, 1635, 1715, 1794, 1873, 1953, 2032, 2111, 2191, 2270, 2349, 2429, 2508, 2587, 2667, 2746, 2825, 2905, 2984, 3064, 3143, 3222, 3341, 3420, 3500, 3579, 3658, 3738, 3817, 3896, 3976, 4055, 4134, 4214, 4293, 4413, 4492, 4571, 4651, 4730, 4810, 4949, 5028, 5107, 5187, 5266, 5345, 5425, 5504, 5584, 5663, 5742, 5822, 5901, 5980, 6060, 6139, 6218, 6298, 6377, 6456, 6536, 6615, 6695, 6774, 6853, 6933, 7012, 7091, 7171, 7250, 7330, 7409, 7488, 7568, 7647, 7726, 7806, 7885, 7965, 8044, 8123, 8262, 8341, 8421, 8500, 8580, 8659, 8738, 8917, 8996, 9076, 9155, 9234, 9314, 9393, 9472, 9552, 9631, 9700]
x6531 = [1099, 1179, 1258, 1338, 1407, 1476, 1556, 1635, 1714, 1794, 1873, 1953, 2032, 2111, 2191, 2270, 2349, 2429, 2508, 2587, 2667, 2746, 2825, 2905, 2984, 3064, 3143, 3222, 3302, 3371, 3441, 3520, 3600, 3679, 3758, 3837, 3917, 3996, 4075, 4334, 4413, 4492, 4572, 4651, 4730, 4810, 4879, 4949, 5028, 5107, 5187, 5266, 5345, 5425, 5504, 5584, 5663, 5742, 5822, 5901, 5980, 6060, 6139, 7488, 7568, 7786, 7865, 7945, 8024, 8103, 8183, 8262, 8341, 8421, 8698, 8778]
x6532 = [34, 97, 157, 226, 306, 455, 544, 623, 703, 782, 861, 1119, 1198, 1278, 1357, 1437, 1516, 1595, 1675, 1754, 1833, 1913, 2002, 2191, 2270, 2349, 2429, 2508, 2587, 2677, 2865, 2945, 3302, 3381, 3461, 3540, 3619, 3699, 3778, 3857, 3937, 4016, 4095, 4175, 4254, 4333, 4413, 4492, 4562, 4671, 4750, 4829, 4948, 5028, 5107, 5197, 5484, 5553, 5623, 5703, 5782, 5861, 5941, 6020, 6099, 6258, 6337, 6407, 6595, 6675, 6754, 6834, 6913, 6992, 7072, 7151, 7230, 7310, 7389, 7469, 7548, 7627, 7707, 7786, 7865, 7945, 8024, 8103, 8183, 8252, 8460, 8540, 8797, 8877, 8957, 9026, 9214, 9294, 9373, 9453, 9532, 9611, 9691]
x6533 = [107, 226, 326, 405, 484, 564, 1457, 1536, 1615, 1695, 1774, 1853, 1933, 2012, 2091, 2409, 2488, 3183, 4294, 4373, 4452, 4532, 4611, 4691, 4869, 4949, 5028, 5097, 5306, 5385, 5742, 5822, 5901, 6218, 6298, 6377, 6457, 6536, 6615, 6685, 6853, 6933, 7111, 7191, 7409, 7488, 7568, 7647, 7885, 7965, 8024, 8341, 8421, 8500, 8580, 8659, 8738, 8818, 8897, 8986, 9353, 9433, 9512, 9582]
x6534 = [107, 186, 266, 345, 425, 1079, 1159, 1268, 1338, 1417, 1496, 1576, 1655, 1734, 1814, 1893, 1962, 2032, 2101, 2161, 2230, 2310, 2389, 3044, 3123, 3203, 3282, 3560, 4056, 4135, 4214, 4294, 4810, 4929, 5008, 5088, 5176, 5425, 6179, 6258, 6338, 6417, 6496, 6576, 6655, 6853, 6943, 7032, 7111, 7191, 7270, 7349, 7429, 7508, 7598, 7885, 7965, 8044, 8242, 8322, 8401, 8480, 8550, 9135, 9214, 9284, 9353, 9433, 9512, 9592, 9680]

levels = [6499, 6500, 6501, 6502, 6503, 6504, 6505, 6506, 6507, 6508, 6509, 6510, 6511, 6512, 6513, 6514,
          6515, 6516, 6517, 6518, 6519, 6520, 6521, 6522, 6523, 6524, 6525, 6526, 6527, 6528, 6529, 6530,
          6531, 6532, 6533, 6534, 6535, 6536, 6537, 6538, 6539, 6540, 6541, 6542, 6543, 6544, 6545, 6546,
          6547, 6548, 6549, 6550, 6551, 6552, 6554, 6556,
          6519, 6520, 6521, 6522, 6523, 6524, 6525, 6526, 6527, 6528, 6529, 6530, 6531, 6532, 6533, 6534]
rows = [s6499, s6500, s6501, s6502, s6503, s6504, s6505, s6506, s6507, s6508, s6509, s6510, s6511, s6512, s6513, s6514,
        s6515, s6516, s6517, s6518, s6519, s6520, s6521, s6522, s6523, s6524, s6525, s6526, s6527, s6528, s6529, s6530,
        s6531, s6532, s6533, s6534, s6535, s6536, s6537, s6538, s6539, s6540, s6541, s6542, s6543, s6544, s6545, s6546,
        s6547, s6548, s6549, s6550, s6551, s6552, s6554, s6556,
        x6519, x6520, x6521, x6522, x6523, x6524, x6525, x6526, x6527, x6528, x6529, x6530, x6531, x6532, x6533, x6534]

x = []
y = []
for level, row in zip(levels, rows):
    x += row
    y += [level] * len(row)

plt.figure(figsize=(10, 10))
plt.plot(x, y, 'k.', label='Samples\n$\\mu$ = 6526.96, $\\sigma$ = 7.91')
plt.xlim(-487, 10227)
plt.xlabel('Sample #')
plt.ylabel('ADC Counts')
plt.title('Run 602, channel076, Pedestal')
plt.grid(True)
plt.legend(loc='upper right')
plt.subplots_adjust(left=0.081, right=0.98, top=0.965, bottom=0.059)
plt.savefig('out.png', dpi=100)
